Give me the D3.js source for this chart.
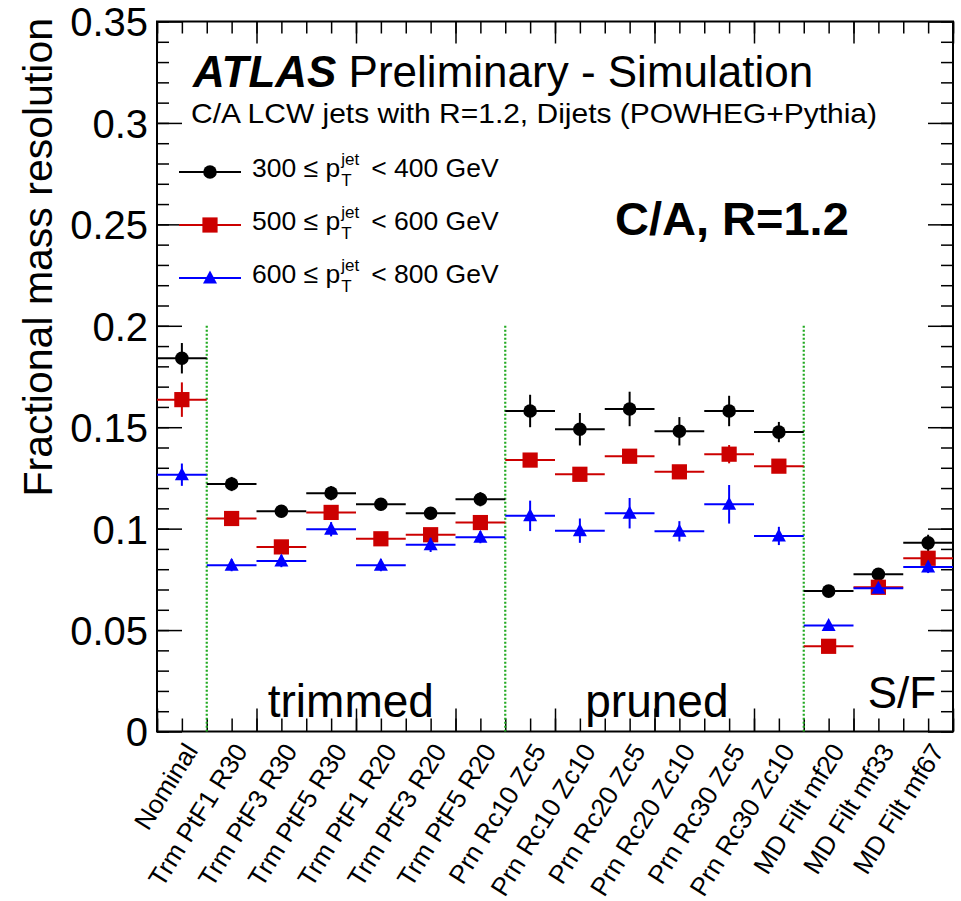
<!DOCTYPE html>
<html>
<head>
<meta charset="utf-8">
<script src="https://cdn.jsdelivr.net/npm/d3@7"></script>
<style>
  html, body { margin: 0; padding: 0; background: #fff; }
  svg { display: block; }
  text { font-family: "Liberation Sans", Arial, Helvetica, sans-serif; }
</style>
</head>
<body>
<div id="chart"></div>
<script>
// Grooming configurations on the x axis
const categories = [
  "Nominal",
  "Trm PtF1 R30", "Trm PtF3 R30", "Trm PtF5 R30",
  "Trm PtF1 R20", "Trm PtF3 R20", "Trm PtF5 R20",
  "Prn Rc10 Zc5", "Prn Rc10 Zc10", "Prn Rc20 Zc5",
  "Prn Rc20 Zc10", "Prn Rc30 Zc5", "Prn Rc30 Zc10",
  "MD Filt mf20", "MD Filt mf33", "MD Filt mf67"
];

// Fractional mass resolution per pT bin, with statistical uncertainty
const res300 = [0.184, 0.122, 0.1086, 0.1175, 0.112, 0.1076, 0.1145, 0.158, 0.149, 0.159, 0.148, 0.158, 0.1476, 0.0692, 0.0775, 0.093];
const err300 = [0.0075, 0.0035, 0.003, 0.0035, 0.003, 0.003, 0.0035, 0.008, 0.008, 0.0085, 0.007, 0.0075, 0.005, 0.002, 0.003, 0.004];

const res500 = [0.1636, 0.105, 0.091, 0.108, 0.095, 0.097, 0.103, 0.1338, 0.1268, 0.1357, 0.128, 0.1367, 0.1308, 0.042, 0.0711, 0.0854];
const err500 = [0.0085, 0.003, 0.003, 0.003, 0.003, 0.003, 0.003, 0.003, 0.003, 0.003, 0.003, 0.0045, 0.003, 0.002, 0.003, 0.003];

const res600 = [0.1266, 0.082, 0.084, 0.0997, 0.082, 0.092, 0.0958, 0.1063, 0.099, 0.1076, 0.0987, 0.112, 0.0964, 0.0523, 0.0706, 0.0811];
const err600 = [0.0055, 0.003, 0.003, 0.0035, 0.003, 0.0035, 0.003, 0.0075, 0.006, 0.0075, 0.005, 0.0095, 0.0045, 0.002, 0.002, 0.003];

// pT ranges of the three series (GeV)
const ptLow = [300, 500, 600];
const ptHigh = [400, 600, 800];

// y-axis tick values
const yMajorTicks = [0, 0.05, 0.1, 0.15, 0.2, 0.25, 0.3, 0.35];

// first configuration of each grooming family, where the dividers go
const sectionStarts = ["Trm PtF1 R30", "Prn Rc10 Zc5", "MD Filt mf20"];

const W = 961, H = 901;
const X0 = 157, X1 = 953, Y0 = 731.5, Y1 = 21.5;

const svg = d3.select("#chart").append("svg")
  .attr("width", W).attr("height", H);

const xBand = d3.scaleBand().domain(categories).range([X0, X1]).padding(0);
const xLin = d3.scaleLinear().domain([0, categories.length]).range([X0, X1]);
const y = d3.scaleLinear().domain([0, 0.35]).range([Y0, Y1]);

// ---- axes: ROOT-style ticks on all four sides ----
function styleAxis(g) {
  g.select(".domain").remove();
  g.selectAll(".tick line").attr("stroke", "#000").attr("stroke-width", 1.5);
}
const xMajor = d3.range(0, categories.length + 0.001, 2);
const xMinor = d3.range(0, categories.length + 0.001, 0.5);
const yMinor = d3.range(0, 0.3501, 0.01);

svg.append("g").attr("transform", `translate(0,${Y0})`)
  .call(d3.axisBottom(xLin).tickValues(xMinor).tickSize(-13).tickFormat(""))
  .call(styleAxis);
svg.append("g").attr("transform", `translate(0,${Y0})`)
  .call(d3.axisBottom(xLin).tickValues(xMajor).tickSize(-23).tickFormat(""))
  .call(styleAxis);
svg.append("g").attr("transform", `translate(0,${Y1})`)
  .call(d3.axisTop(xLin).tickValues(xMinor).tickSize(-12).tickFormat(""))
  .call(styleAxis);
svg.append("g").attr("transform", `translate(0,${Y1})`)
  .call(d3.axisTop(xLin).tickValues(xMajor).tickSize(-22).tickFormat(""))
  .call(styleAxis);

svg.append("g").attr("transform", `translate(${X0},0)`)
  .call(d3.axisLeft(y).tickValues(yMinor).tickSize(-12).tickFormat(""))
  .call(styleAxis);
const yAx = svg.append("g").attr("transform", `translate(${X0},0)`)
  .call(d3.axisLeft(y).tickValues(yMajorTicks).tickSize(-25).tickPadding(9)
    .tickFormat(d => String(+d.toFixed(2))))
  .call(styleAxis);
yAx.selectAll(".tick text")
  .attr("font-size", 40).attr("fill", "#000")
  .attr("font-family", "Liberation Sans, Arial, sans-serif")
  .attr("dy", "0.36em");
svg.append("g").attr("transform", `translate(${X1},0)`)
  .call(d3.axisRight(y).tickValues(yMinor).tickSize(-12).tickFormat(""))
  .call(styleAxis);
svg.append("g").attr("transform", `translate(${X1},0)`)
  .call(d3.axisRight(y).tickValues(yMajorTicks).tickSize(-25).tickFormat(""))
  .call(styleAxis);

// frame
svg.append("rect")
  .attr("x", X0).attr("y", Y1).attr("width", X1 - X0).attr("height", Y0 - Y1)
  .attr("fill", "none").attr("stroke", "#000").attr("stroke-width", 2);

// y-axis title
svg.append("text")
  .attr("transform", `translate(52,18) rotate(-90)`)
  .attr("text-anchor", "end")
  .attr("font-size", 41)
  .text("Fractional mass resolution");

// category labels, rotated
svg.append("g").selectAll("text")
  .data(categories)
  .join("text")
  .attr("transform", d => `translate(${xBand(d) + xBand.bandwidth() / 2 + 1},741) rotate(-58)`)
  .attr("text-anchor", "end")
  .attr("dy", "0.72em")
  .attr("font-size", 26)
  .text(d => d);

// dotted separators between grooming families
svg.append("g").selectAll("line")
  .data(sectionStarts)
  .join("line")
  .attr("x1", d => xBand(d)).attr("x2", d => xBand(d))
  .attr("y1", y(0.2)).attr("y2", Y0)
  .attr("stroke", "#22aa22").attr("stroke-width", 2.2)
  .attr("stroke-dasharray", "2,2");

// family labels
svg.append("text").attr("x", xBand("Trm PtF1 R30") + 61).attr("y", 717)
  .attr("font-size", 46).text("trimmed");
svg.append("text").attr("x", xBand("Prn Rc10 Zc5") + 80).attr("y", 717)
  .attr("font-size", 46).text("pruned");
svg.append("text").attr("x", xBand("MD Filt mf20") + 64).attr("y", 708)
  .attr("font-size", 44).text("S/F");

// ---- data series ----
const series = [
  { vals: res300, errs: err300, color: "#000000", shape: "circle" },
  { vals: res500, errs: err500, color: "#cc0000", shape: "square" },
  { vals: res600, errs: err600, color: "#0000ff", shape: "triangle" }
];

function drawMarker(g, shape, color) {
  if (shape === "circle") {
    g.append("circle").attr("r", 6.8).attr("fill", color);
  } else if (shape === "square") {
    g.append("rect").attr("x", -7.6).attr("y", -7.6).attr("width", 15.2).attr("height", 15.2).attr("fill", color);
  } else {
    g.append("path").attr("d", "M0,-7.5 L7,5.5 L-7,5.5 Z").attr("fill", color);
  }
}

series.forEach(s => {
  const g = svg.append("g");
  const pts = categories.map((c, i) => ({ c, v: s.vals[i], e: s.errs[i] }));
  g.selectAll("line.h").data(pts).join("line").attr("class", "h")
    .attr("x1", d => xBand(d.c)).attr("x2", d => xBand(d.c) + xBand.bandwidth())
    .attr("y1", d => y(d.v)).attr("y2", d => y(d.v))
    .attr("stroke", s.color).attr("stroke-width", 2);
  g.selectAll("line.v").data(pts).join("line").attr("class", "v")
    .attr("x1", d => xBand(d.c) + xBand.bandwidth() / 2).attr("x2", d => xBand(d.c) + xBand.bandwidth() / 2)
    .attr("y1", d => y(d.v - d.e)).attr("y2", d => y(d.v + d.e))
    .attr("stroke", s.color).attr("stroke-width", 2);
  g.selectAll("g.m").data(pts).join("g").attr("class", "m")
    .attr("transform", d => `translate(${xBand(d.c) + xBand.bandwidth() / 2},${y(d.v)})`)
    .each(function () { drawMarker(d3.select(this), s.shape, s.color); });
});

// ---- header text ----
const head = svg.append("text").attr("x", 193).attr("y", 87).attr("font-size", 44);
head.append("tspan").attr("font-weight", "bold").attr("font-style", "italic").text("ATLAS");
head.append("tspan").text(" Preliminary - Simulation");

svg.append("text").attr("x", 191).attr("y", 123).attr("font-size", 28)
  .attr("textLength", 686).attr("lengthAdjust", "spacingAndGlyphs")
  .text("C/A LCW jets with R=1.2, Dijets (POWHEG+Pythia)");

svg.append("text").attr("x", 615).attr("y", 235)
  .attr("font-size", 47).attr("font-weight", "bold")
  .text("C/A, R=1.2");

// ---- legend ----
const legendY = [172, 225, 278];
series.forEach((s, i) => {
  const ly = legendY[i];
  const g = svg.append("g");
  g.append("line").attr("x1", 179).attr("x2", 241).attr("y1", ly).attr("y2", ly)
    .attr("stroke", s.color).attr("stroke-width", 2);
  const m = g.append("g").attr("transform", `translate(210,${ly})`);
  drawMarker(m, s.shape, s.color);

  const base = ly + 5;
  const t1 = g.append("text").attr("x", 252).attr("y", base).attr("font-size", 26.5)
    .text(`${ptLow[i]} \u2264 p`);
  const w1 = t1.node().getComputedTextLength();
  const sx = 252 + w1 + 1;
  const sup = g.append("text").attr("x", sx).attr("y", base - 12).attr("font-size", 17).text("jet");
  g.append("text").attr("x", sx).attr("y", base + 9).attr("font-size", 17).text("T");
  const w2 = sup.node().getComputedTextLength();
  g.append("text").attr("x", sx + w2 + 12).attr("y", base).attr("font-size", 26.5)
    .text(`< ${ptHigh[i]} GeV`);
});
</script>
</body>
</html>
